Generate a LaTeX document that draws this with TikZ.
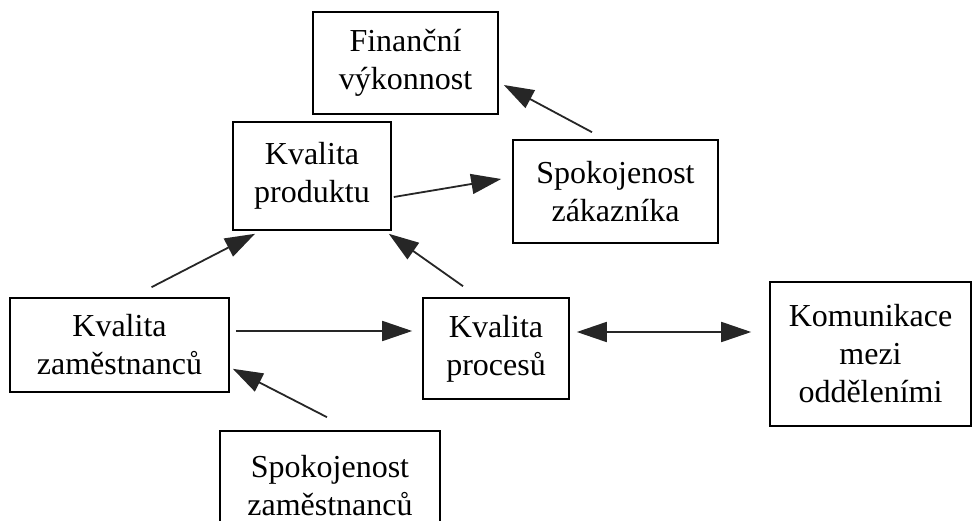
\documentclass[tikz,border=0pt]{standalone}
\usepackage{fontspec}
\setmainfont{Liberation Serif}
\usetikzlibrary{arrows.meta}
\tikzset{box/.style={draw,line width=1.6pt,inner sep=0pt,align=center,font=\fontsize{32}{38}\selectfont}}
\tikzset{arrow/.style={draw,line width=1.8pt,color=black!85,-{Triangle[length=30pt,width=20pt]}}}
\tikzset{both/.style={arrow,{Triangle[length=30pt,width=20pt]}-{Triangle[length=30pt,width=20pt]}}}

\begin{document}
\begin{tikzpicture}[x=1pt,y=-1pt]
    \useasboundingbox (0,0) rectangle (973,521);

    \node[box,minimum width=185pt,minimum height=102pt] (fin) at (405.5,63) {Finanční\\výkonnost};
    \node[box,minimum width=158pt,minimum height=108pt] (prod) at (312,176) {Kvalita\\produktu};
    \node[box,minimum width=205pt,minimum height=103pt] (zak) at (615.5,191.5) {Spokojenost\\zákazníka};
    \node[box,minimum width=219pt,minimum height=94pt] (zam) at (119.5,345) {Kvalita\\zaměstnanců};
    \node[box,minimum width=146pt,minimum height=101pt] (proc) at (496,348.5) {Kvalita\\procesů};
    \node[box,minimum width=201pt,minimum height=144pt] (kom) at (870.5,354) {Komunikace\\mezi\\odděleními};
    \node[box,minimum width=220pt,minimum height=110pt] (szam) at (330,486) {Spokojenost\\zaměstnanců};

        \path[arrow] ([xshift=32pt,yshift=10pt]zam.north) -- ([xshift=-57pt,yshift=-3pt]prod.south);
        \path[arrow] ([xshift=-33pt,yshift=11pt]proc.north) -- ([xshift=-3pt,yshift=-3pt]prod.south east);
        \path[arrow] ([xshift=2pt,yshift=-21pt]prod.east) -- ([xshift=-11pt,yshift=12.5pt]zak.west);
        \path[arrow] ([xshift=-23.5pt,yshift=7pt]zak.north) -- ([xshift=5pt,yshift=-22pt]fin.east);
        \path[arrow] ([xshift=6pt,yshift=14pt]zam.east) -- ([xshift=-10pt,yshift=17.5pt]proc.west);
        \path[arrow] ([xshift=-3pt,yshift=13pt]szam.north) -- ([xshift=3pt,yshift=24pt]zam.south east);
        \path[both] ([xshift=7pt,yshift=16.5pt]proc.east) -- ([xshift=-18pt,yshift=22pt]kom.west);
\end{tikzpicture}
\end{document}
